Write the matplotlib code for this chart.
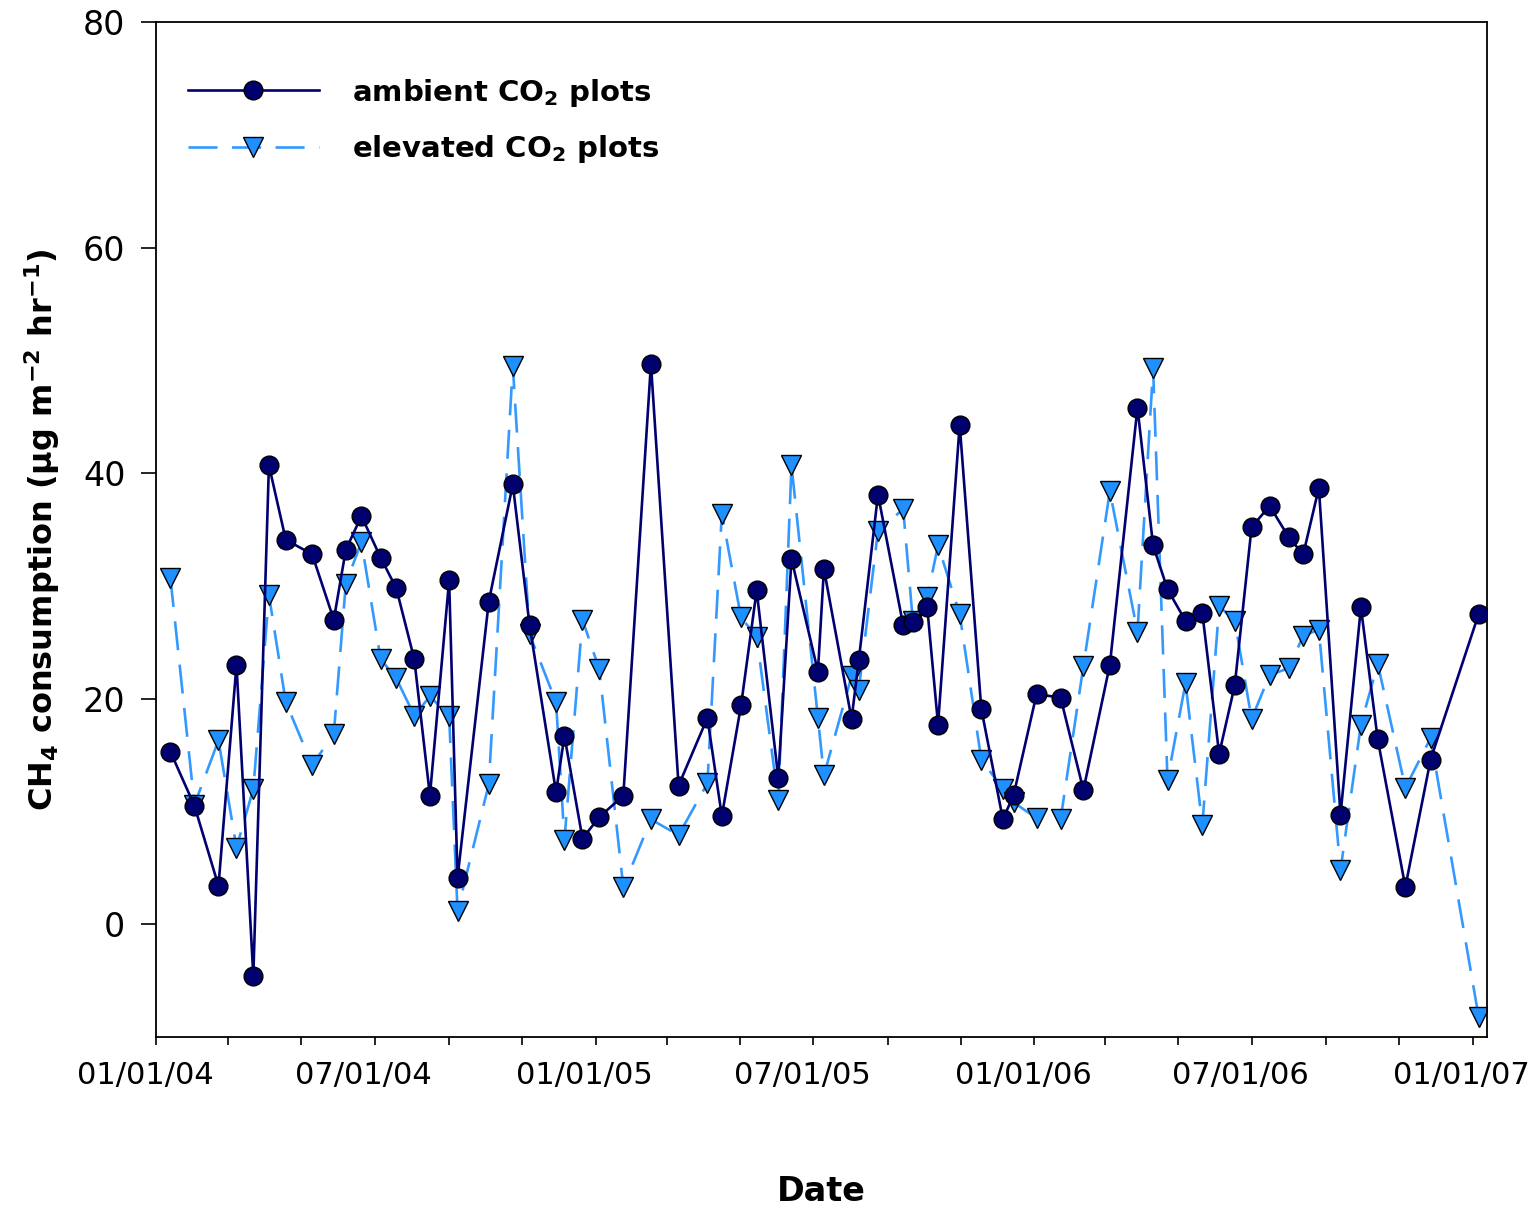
import matplotlib
matplotlib.use("Agg")
import matplotlib.pyplot as plt
import matplotlib.dates as mdates
import matplotlib.transforms as mtransforms
import numpy as np
import pandas as pd

# sampling dates (shared by both treatments)
dates = [
    "2004-01-13", "2004-02-02", "2004-02-22", "2004-03-08", "2004-03-22", "2004-04-04",
    "2004-04-18", "2004-05-10", "2004-05-28", "2004-06-07", "2004-06-20", "2004-07-06",
    "2004-07-19", "2004-08-03", "2004-08-16", "2004-09-01", "2004-09-08", "2004-10-04",
    "2004-10-24", "2004-11-07", "2004-11-29", "2004-12-06", "2004-12-21", "2005-01-04",
    "2005-01-24", "2005-02-16", "2005-03-11", "2005-04-04", "2005-04-16", "2005-05-02",
    "2005-05-15", "2005-06-02", "2005-06-13", "2005-07-05", "2005-07-10", "2005-08-02",
    "2005-08-08", "2005-08-24", "2005-09-14", "2005-09-22", "2005-10-04", "2005-10-13",
    "2005-10-31", "2005-11-18", "2005-12-06", "2005-12-15", "2006-01-03", "2006-01-23",
    "2006-02-11", "2006-03-05", "2006-03-28", "2006-04-10", "2006-04-22", "2006-05-07",
    "2006-05-21", "2006-06-04", "2006-06-17", "2006-07-01", "2006-07-16", "2006-08-01",
    "2006-08-13", "2006-08-26", "2006-09-13", "2006-09-30", "2006-10-14", "2006-11-06",
    "2006-11-27", "2007-01-06",
]

ambient = [
    15.3, 10.5, 3.4, 23.0, -4.6, 40.7, 34.1, 32.8, 27.0, 33.2, 36.2, 32.5,
    29.8, 23.5, 11.4, 30.5, 4.1, 28.6, 39.0, 26.5, 11.7, 16.7, 7.6, 9.5,
    11.4, 49.7, 12.3, 18.3, 9.6, 19.4, 29.6, 13.0, 32.4, 22.4, 31.5, 18.2,
    23.4, 38.1, 26.5, 26.8, 28.1, 17.7, 44.3, 19.1, 9.3, 11.5, 20.4, 20.1,
    11.9, 23.0, 45.8, 33.6, 29.7, 26.9, 27.6, 15.1, 21.2, 35.2, 37.1, 34.3,
    32.8, 38.7, 9.7, 28.1, 16.4, 3.3, 14.6, 27.5,
]

elevated = [
    30.7, 10.6, 16.3, 6.8, 12.0, 29.2, 19.7, 14.1, 16.9, 30.2, 33.9, 23.5,
    21.8, 18.5, 20.2, 18.5, 1.2, 12.4, 49.5, 25.7, 19.7, 7.5, 27.0, 22.6,
    3.3, 9.3, 7.9, 12.5, 36.4, 27.2, 25.5, 11.0, 40.7, 18.3, 13.2, 22.0,
    20.8, 34.9, 36.8, 26.9, 29.0, 33.6, 27.5, 14.6, 12.0, 10.8, 9.4, 9.3,
    22.9, 38.4, 25.9, 49.3, 12.8, 21.4, 8.8, 28.2, 26.9, 18.2, 22.1, 22.7,
    25.6, 26.1, 4.8, 17.7, 23.1, 12.1, 16.5, -8.2,
]

x = pd.to_datetime(dates)

plt.rcParams["mathtext.default"] = "bf"

fig = plt.figure(figsize=(15.37, 12.17), dpi=100)
ax = fig.add_axes([0.1015, 0.1479, 0.866, 0.834])

ax.plot(x, ambient, color="#000070", linewidth=1.9, marker="o", markersize=13.5,
        markerfacecolor="#00006e", markeredgecolor="black", markeredgewidth=1.0,
        label="ambient CO$_2$ plots", zorder=3)
ax.plot(x, elevated, color="#3399ff", linewidth=1.9, linestyle=(0, (11, 5.5)),
        marker="v", markersize=14, markerfacecolor="#1e90ff",
        markeredgecolor="black", markeredgewidth=1.0,
        label="elevated CO$_2$ plots", zorder=2)

ax.set_xlim(pd.Timestamp("2004-01-01"), pd.Timestamp("2007-01-13"))
ax.set_ylim(-10, 80)
ax.set_yticks([0, 20, 40, 60, 80])

ax.xaxis.set_major_locator(mdates.MonthLocator(bymonth=[1, 3, 5, 7, 9, 11]))
def fmt(v, pos):
    d = mdates.num2date(v)
    if d.month in (1, 7):
        return d.strftime("%m/%d/%y")
    return ""
ax.xaxis.set_major_formatter(plt.FuncFormatter(fmt))

ax.tick_params(axis="x", direction="out", length=6, width=1.2, labelsize=22, pad=11)
ax.tick_params(axis="y", direction="out", length=11, width=1.2, labelsize=24, pad=11)

# labels sit a little left of their ticks in the original
shift = mtransforms.ScaledTranslation(-11 / 100, 0, fig.dpi_scale_trans)
for lab in ax.get_xticklabels():
    lab.set_transform(lab.get_transform() + shift)

for s in ax.spines.values():
    s.set_linewidth(1.3)

ax.set_xlabel("Date", fontsize=24, fontweight="bold")
ax.xaxis.set_label_coords(0.5, -0.136)
ax.set_ylabel("CH$_4$ consumption (\u00b5g m$^{-2}$ hr$^{-1}$)", fontsize=23, fontweight="bold")
ax.yaxis.set_label_coords(-0.071, 0.5)

leg = ax.legend(loc="upper left", bbox_to_anchor=(0.004, 0.972), frameon=False,
                prop={"size": 21, "weight": "bold"}, handlelength=4.5,
                handletextpad=1.15, labelspacing=0.85, numpoints=1)

fig.savefig("out.png", dpi=100)
